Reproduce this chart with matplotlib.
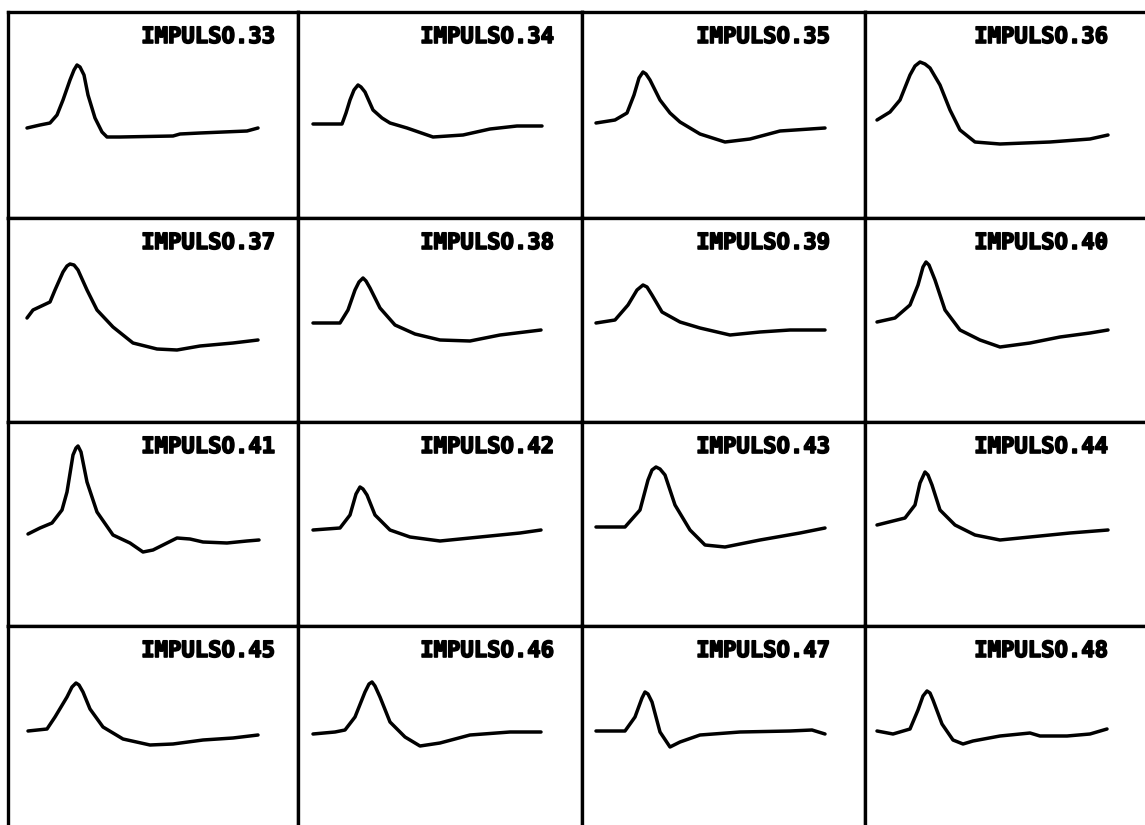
import matplotlib
matplotlib.use("Agg")
import matplotlib.pyplot as plt
import matplotlib.patheffects as pe

W, H = 1145, 825

labels = ["IMPULSO.%d" % n for n in range(33, 49)]

# time (sample offset) and amplitude values
t33 = [19, 32, 42, 49, 55, 62, 66, 69, 72, 76, 80, 87, 94, 99, 112, 165, 172, 192, 239, 250]
v33 = [90, 93, 95, 103, 118, 138, 148, 153, 151, 143, 123, 100, 86, 81, 81, 82, 84, 85, 87, 90]
t34 = [15, 44, 48, 52, 56, 60, 63, 67, 75, 84, 92, 109, 135, 165, 192, 219, 244]
v34 = [94, 94, 105, 118, 128, 133, 131, 126, 108, 100, 95, 90, 81, 83, 89, 92, 92]
t35 = [14, 33, 45, 52, 57, 61, 64, 68, 78, 88, 98, 118, 143, 168, 198, 243]
v35 = [95, 98, 105, 123, 140, 146, 144, 138, 118, 105, 96, 84, 76, 79, 87, 90]
t36 = [12, 25, 35, 45, 50, 55, 60, 65, 75, 85, 95, 110, 135, 185, 225, 243]
v36 = [98, 106, 118, 143, 152, 156, 154, 150, 133, 108, 88, 76, 74, 76, 79, 83]
t37 = [19, 25, 42, 47, 55, 59, 62, 66, 70, 79, 89, 105, 125, 149, 169, 192, 225, 250]
v37 = [104, 112, 120, 132, 150, 156, 158, 157, 152, 132, 112, 95, 79, 73, 72, 76, 79, 82]
t38 = [15, 42, 50, 57, 61, 65, 68, 72, 82, 97, 117, 142, 172, 202, 243]
v38 = [99, 99, 112, 132, 140, 144, 141, 134, 114, 97, 88, 82, 81, 87, 92]
t39 = [14, 33, 46, 55, 61, 65, 70, 80, 98, 118, 148, 178, 208, 243]
v39 = [99, 102, 117, 132, 137, 135, 127, 110, 100, 94, 87, 90, 92, 92]
t40 = [12, 30, 45, 53, 58, 61, 64, 70, 80, 95, 115, 135, 165, 195, 225, 243]
v40 = [100, 104, 117, 137, 155, 160, 157, 142, 112, 92, 82, 75, 79, 85, 89, 92]
t41 = [20, 32, 44, 54, 59, 65, 68, 70, 73, 79, 89, 105, 122, 135, 145, 155, 169, 182, 195, 219, 239, 251]
v41 = [92, 98, 103, 116, 134, 171, 178, 180, 174, 144, 114, 91, 83, 74, 76, 81, 88, 87, 84, 83, 85, 86]
t42 = [15, 42, 52, 58, 62, 65, 69, 77, 92, 112, 142, 182, 222, 243]
v42 = [96, 98, 111, 132, 139, 137, 131, 111, 96, 89, 85, 89, 93, 96]
t43 = [14, 43, 58, 66, 70, 74, 78, 83, 93, 108, 123, 143, 178, 218, 243]
v43 = [99, 99, 116, 146, 156, 159, 157, 151, 121, 96, 81, 79, 86, 93, 98]
t44 = [12, 40, 50, 55, 60, 63, 67, 75, 90, 110, 135, 165, 205, 243]
v44 = [101, 108, 121, 143, 154, 151, 141, 116, 101, 91, 86, 89, 93, 96]
t45 = [20, 39, 47, 59, 64, 68, 71, 75, 82, 95, 115, 142, 165, 195, 225, 250]
v45 = [101, 103, 115, 135, 145, 149, 147, 140, 123, 105, 93, 87, 88, 92, 94, 97]
t46 = [15, 37, 47, 57, 67, 71, 74, 77, 82, 92, 107, 122, 142, 172, 212, 243]
v46 = [98, 100, 102, 115, 140, 148, 150, 146, 135, 110, 95, 86, 89, 97, 100, 100]
t47 = [14, 43, 53, 60, 63, 66, 70, 78, 88, 98, 118, 158, 208, 230, 243]
v47 = [101, 101, 115, 134, 140, 138, 130, 100, 85, 90, 97, 100, 101, 102, 98]
t48 = [12, 28, 45, 53, 58, 62, 65, 68, 77, 88, 98, 108, 135, 165, 175, 202, 225, 242]
v48 = [101, 98, 103, 122, 136, 141, 139, 132, 108, 92, 88, 91, 96, 99, 96, 96, 98, 103]

times = [t33, t34, t35, t36, t37, t38, t39, t40, t41, t42, t43, t44, t45, t46, t47, t48]
values = [v33, v34, v35, v36, v37, v38, v39, v40, v41, v42, v43, v44, v45, v46, v47, v48]

# grid layout (pixel positions of the panel dividers)
col_edges = [8, 298, 582, 865, 1150]
row_edges = [12, 218, 422, 626, 832]
label_right = [267, 256, 248, 243]

fig = plt.figure(figsize=(W / 100, H / 100), dpi=100)
fig.patch.set_facecolor("white")

for i in range(16):
    r, c = divmod(i, 4)
    x0, x1 = col_edges[c], col_edges[c + 1]
    y0, y1 = row_edges[r], row_edges[r + 1]
    ax = fig.add_axes([x0 / W, 1 - y1 / H, (x1 - x0) / W, (y1 - y0) / H])
    ax.plot(times[i], values[i], color="black", lw=2.5,
            solid_joinstyle="round", solid_capstyle="round")
    ax.set_xlim(0, x1 - x0)
    ax.set_ylim(0, y1 - y0)
    ax.set_xticks([])
    ax.set_yticks([])
    for s in ax.spines.values():
        s.set_linewidth(2.4)
        s.set_color("black")
    txt = ax.text(label_right[c], (y1 - y0) - 25, labels[i], ha="right", va="center",
                  fontsize=16, fontweight="bold", family="DejaVu Sans Mono",
                  color="black")
    txt.set_path_effects([pe.withStroke(linewidth=1.2, foreground="black")])

fig.savefig("out.png", dpi=100, facecolor="white")
